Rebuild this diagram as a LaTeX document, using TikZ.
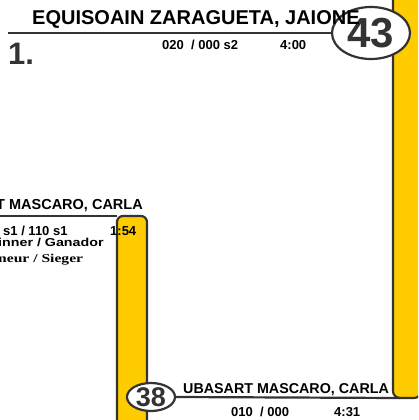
\documentclass[tikz,border=0pt]{standalone}
\usepackage{fontspec}
\usepackage{graphicx}
\usetikzlibrary{shapes.geometric}
\setmainfont{Liberation Sans}
\newfontfamily\serifb{Liberation Serif}
\definecolor{lineg}{HTML}{333333}
\definecolor{yel}{HTML}{FFCC00}
\begin{document}
\begin{tikzpicture}[x=1pt,y=-1pt,
  ln/.style={draw=lineg,line width=2.2pt},
  nm/.style={inner sep=0pt,anchor=base west,font=\bfseries\fontsize{14.3}{14}\selectfont},
  small/.style={inner sep=0pt,anchor=base west,font=\bfseries\fontsize{13}{13}\selectfont},
  num/.style={ellipse,draw=lineg,line width=2.2pt,fill=white,inner sep=0pt,text=lineg,font=\bfseries}
]
\useasboundingbox (0,0) rectangle (418,420);
\clip (0,0) rectangle (418,420);
% right yellow strip
\path[fill=yel,ln,rounded corners=7] (393,-20) -- (393,398) -- (421,398) -- (421,-20) -- cycle;
% left yellow strip
\path[fill=yel,ln,rounded corners=6] (117,440) -- (117,216) -- (147,216) -- (147,440);
\draw[ln] (0,216) -- (117,216);
% top line
\coordinate (tl) at (8,33);
\node[num,minimum width=78pt,minimum height=52pt,font=\bfseries\fontsize{42}{42}\selectfont] (e43) at (371,33) {43};
\draw[ln] (tl) -- (e43.west);
\node[nm,font=\bfseries\fontsize{20}{20}\selectfont] (n1) at (32,25) {EQUISOAIN ZARAGUETA, JAIONE};
\node[inner sep=0pt,anchor=base west,text=lineg,font=\bfseries\fontsize{31}{31}\selectfont] (one) at (8,65) {1.};
\node[small] (t1) at (162,49) {020~ / 000 s2};
\node[small] (t2) at (280,49) {4:00};
% middle
\node[nm,font=\bfseries\fontsize{14.5}{14}\selectfont] (n2) at (-4,209) {T MASCARO, CARLA};
\node[small] (t3) at (3,235) {s1 / 110 s1};
\node[small] (t4) at (110,235) {1:54};
\node[small] (t5) at (-2,246) {\scalebox{1.24}[1]{\fontsize{11.5}{12}\selectfont inner / Ganador}};
\node[small] (t6) at (-2,262) {\scalebox{1.3}[1]{\serifb\bfseries\fontsize{12}{12}\selectfont neur / Sieger}};
% bottom
\node[num,minimum width=48pt,minimum height=28pt,font=\bfseries\fontsize{27}{27}\selectfont] (e38) at (151,397) {38};
\draw[ln] (e38.east) -- (400,398);
\node[nm] (n3) at (183,393) {UBASART MASCARO, CARLA};
\node[small] (t7) at (231,416) {010~ / 000};
\node[small] (t8) at (334,416) {4:31};
\end{tikzpicture}
\end{document}
